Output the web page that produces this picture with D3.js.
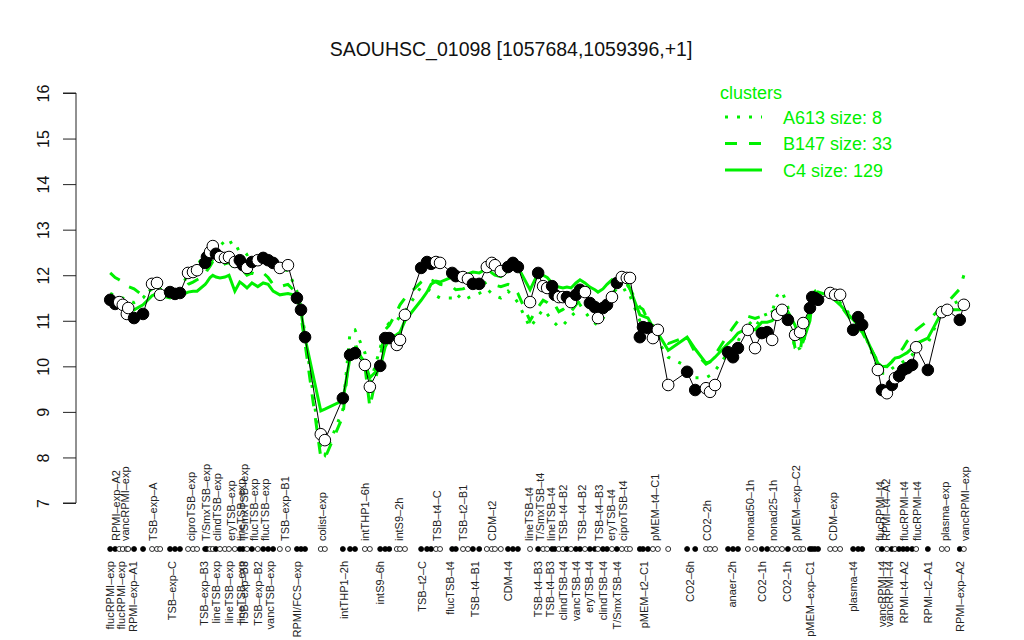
<!DOCTYPE html>
<html><head><meta charset="utf-8">
<script src="https://cdn.jsdelivr.net/npm/d3@7"></script>
<style>body{margin:0;background:#fff}svg{display:block}text{font-family:"Liberation Sans",Arial,Helvetica,sans-serif}</style>
</head><body><svg id="c" width="1024" height="640"></svg>
<script>
// sample positions (order along the x axis, with gaps between condition groups)
const positions = [7.6,8.7,9.6,10.4,11.3,11.6,12.9,14.9,16.9,18.0,18.7,20.9,22.0,23.1,24.9,26.0,26.9,28.7,29.1,29.8,30.4,31.1,32.0,33.1,34.0,35.3,36.4,37.1,38.0,39.1,40.4,41.6,42.7,43.8,45.3,47.1,49.1,50.0,50.9,54.4,55.3,59.3,60.9,62.0,64.2,65.3,67.6,68.7,69.6,71.3,72.0,73.1,76.7,78.0,78.9,80.0,80.9,83.6,84.4,86.0,87.1,88.2,89.6,91.3,92.4,93.1,94.4,96.0,97.1,98.2,100.9,102.7,103.8,104.7,105.8,106.4,107.3,108.2,109.1,110.0,111.1,112.0,113.1,114.2,115.3,116.0,117.1,118.0,119.1,120.2,121.3,122.4,123.1,125.3,126.0,127.1,128.2,129.3,131.6,135.8,137.6,140.0,140.9,142.0,144.9,146.0,147.1,149.3,150.9,152.4,153.6,154.7,155.8,156.9,158.2,159.8,160.9,161.6,163.1,163.6,164.2,164.9,167.6,168.7,169.8,172.7,173.8,174.7,178.2,179.1,180.2,181.3,182.0,182.9,183.8,184.7,185.8,186.7,189.3,192.4,193.6,196.4,197.3];
// gene expression (log2)
const values = [11.46,11.37,11.41,11.35,11.15,11.28,11.06,11.15,11.81,11.83,11.57,11.63,11.59,11.61,12.05,12.07,12.11,12.27,12.40,12.51,12.64,12.47,12.40,12.38,12.40,12.29,12.33,12.22,12.16,12.29,12.33,12.38,12.33,12.27,12.16,12.22,11.50,11.24,10.64,8.51,8.38,9.30,10.25,10.29,10.03,9.55,10.01,10.62,10.62,10.47,10.58,11.13,12.16,12.29,12.25,12.29,12.27,12.05,11.98,11.96,11.92,11.81,11.81,12.18,12.27,12.22,12.09,12.18,12.27,12.18,11.41,12.05,11.76,11.72,11.76,11.57,11.52,11.52,11.52,11.41,11.57,11.68,11.63,11.39,11.30,11.06,11.28,11.35,11.52,11.83,11.96,11.94,11.94,10.64,10.86,10.84,10.62,10.80,9.59,9.88,9.48,9.52,9.44,9.59,10.31,10.20,10.40,10.80,10.40,10.73,10.75,10.58,11.13,11.24,11.02,10.69,10.75,10.95,11.28,11.52,11.50,11.46,11.61,11.57,11.57,10.80,11.08,10.91,9.92,9.48,9.41,9.59,9.74,9.79,9.92,9.96,10.03,10.42,9.92,11.19,11.24,11.02,11.35];
// 1 = filled marker, 0 = open marker
const filled = [1,1,0,0,0,0,1,1,0,0,0,1,1,1,0,0,0,1,1,0,0,1,0,0,0,0,1,1,0,1,0,1,1,1,0,0,1,1,1,0,0,1,1,1,0,0,1,1,1,0,0,0,1,1,1,0,0,1,1,0,0,1,1,0,0,0,0,1,1,1,0,1,0,0,1,1,0,0,1,0,1,1,0,1,1,0,1,1,0,1,0,0,0,1,1,1,0,0,0,1,1,0,0,0,1,1,1,0,0,1,1,0,0,0,1,0,0,0,1,1,1,1,0,0,0,1,1,1,0,1,0,1,0,1,1,1,1,0,1,0,0,1,0];
// cluster mean profiles
const clusterC4 = [11.45,11.42,11.38,11.35,11.30,11.28,11.24,11.35,11.55,11.60,11.55,11.50,11.57,11.55,11.63,11.65,11.65,11.80,11.85,11.95,12.00,11.96,11.94,11.96,12.00,11.65,11.85,11.80,11.72,11.83,11.75,11.83,11.80,11.65,11.57,11.60,11.55,11.20,10.62,9.02,9.06,9.25,10.20,10.40,10.08,9.75,9.98,10.42,10.60,10.70,10.75,11.00,11.45,11.63,11.80,11.87,11.85,11.96,11.97,12.00,12.03,12.07,12.05,12.15,12.05,12.00,11.97,12.10,12.15,12.18,11.68,12.05,12.00,11.95,11.83,11.76,11.74,11.72,11.74,11.72,11.83,11.90,11.83,11.74,11.68,11.63,11.70,11.80,11.90,11.85,11.94,11.85,11.70,11.13,11.10,11.06,10.86,10.73,10.35,10.64,10.38,10.07,10.10,10.20,10.50,10.60,10.73,10.84,10.80,10.97,10.97,11.00,11.13,11.15,11.20,10.90,10.60,10.55,11.00,11.45,11.55,11.63,11.55,11.45,11.35,11.02,10.90,10.80,10.07,10.00,9.99,10.10,10.18,10.20,10.25,10.30,10.40,10.50,10.62,11.19,11.24,11.24,11.30];
const clusterB147 = [12.05,11.95,11.90,11.85,11.75,11.75,11.70,11.55,11.70,11.75,11.65,11.55,11.60,11.60,11.80,11.85,11.90,12.00,12.10,12.20,12.30,12.25,12.20,12.25,12.28,12.15,12.10,12.10,12.00,12.05,12.00,12.05,11.95,11.80,11.75,11.80,11.60,11.10,10.50,8.00,7.98,8.90,10.45,10.50,10.00,9.10,10.20,10.80,10.90,11.20,11.35,11.50,11.85,11.95,11.90,11.85,11.80,11.75,11.68,11.70,11.75,11.70,11.75,11.85,11.80,11.78,11.75,11.80,11.75,11.60,11.00,11.30,11.45,11.40,11.30,11.35,11.20,11.25,11.13,11.20,11.35,11.45,11.35,11.45,11.40,11.35,11.40,11.50,11.60,11.70,11.75,11.80,11.70,11.30,11.25,11.00,10.90,10.75,10.50,10.65,10.30,10.05,10.10,10.25,10.70,10.85,11.00,11.10,11.05,11.10,11.15,11.20,11.25,11.35,11.20,10.40,10.30,10.80,11.20,11.55,11.65,11.70,11.60,11.45,11.35,10.95,10.85,10.75,10.10,10.00,10.00,10.10,10.20,10.30,10.40,10.55,10.65,10.80,11.00,11.30,11.40,11.70,12.00];
const clusterA613 = [11.60,11.55,11.50,11.50,11.45,11.45,11.40,11.50,11.75,11.80,11.70,11.55,11.60,11.65,12.05,12.10,12.20,12.50,12.55,12.65,12.70,12.60,12.65,12.75,12.80,12.55,12.60,12.55,12.45,12.50,12.35,12.40,12.30,12.25,12.15,12.10,11.65,11.30,10.70,8.15,8.05,9.05,10.75,10.80,10.30,9.60,10.40,10.85,10.95,11.00,11.10,11.20,11.75,11.70,11.65,11.55,11.50,11.50,11.60,11.45,11.50,11.55,11.60,11.70,11.60,11.55,11.50,11.65,11.55,11.40,10.85,11.10,11.25,11.15,11.00,10.95,10.86,10.90,11.00,11.10,11.20,11.35,11.20,11.05,10.95,10.90,11.05,11.20,11.35,11.55,11.65,11.70,11.55,11.00,10.90,10.80,10.70,10.55,10.20,10.00,9.75,9.75,9.80,9.90,10.30,10.40,10.55,11.00,10.85,11.10,11.15,11.20,11.55,11.65,11.30,10.35,10.40,10.50,11.20,11.40,11.50,11.60,11.55,11.45,11.40,11.05,10.95,10.85,9.95,9.85,9.85,9.95,10.00,10.05,10.10,10.15,10.25,10.40,10.50,11.20,11.30,11.45,11.50];
const yTicks = [7,8,9,10,11,12,13,14,15,16];
const topLabels = [["RPMI\u2013exp\u2013A2",8.9],["vancRPMI\u2013exp",10.9],["TSB\u2013exp\u2013A",17.1],["ciproTSB\u2013exp",25.6],["T/SmxTSB\u2013exp",28.9],["clindTSB\u2013exp",31.3],["eryTSB\u2013exp",34.4],["lineTSB\u2013exp",36.6],["T/SmxTSB\u2013exp",37.3],["flucTSB\u2013exp",39.6],["flucTSB\u2013exp",42.0],["TSB\u2013exp\u2013B1",46.4],["colist\u2013exp",54.7],["intTHP1\u20136h",64.2],["intS9\u20132h",71.8],["TSB\u2013t4\u2013C",80.2],["TSB\u2013t2\u2013B1",86.0],["CDM\u2013t2",92.4],["lineTSB\u2013t4",100.7],["T/SmxTSB\u2013t4",103.1],["lineTSB\u2013t4",105.6],["TSB\u2013t4\u2013B2",108.2],["TSB\u2013t4\u2013B2",112.4],["TSB\u2013t4\u2013B3",116.2],["eryTSB\u2013t4",118.9],["ciproTSB\u2013t4",121.6],["pMEM\u2013t4\u2013C1",128.7],["CO2\u20132h",140.2],["nonad50\u20131h",149.8],["nonad25\u20131h",154.9],["pMEM\u2013exp\u2013C2",160.0],["CDM\u2013exp",168.2],["flucRPMI\u2013t4",178.7],["RPMI\u2013t4\u2013A2",180.0],["flucRPMI\u2013t4",184.0],["flucRPMI\u2013t4",186.9],["plasma\u2013exp",193.1],["vancRPMI\u2013exp",197.6]];
const bottomLabels = [["flucRPMI\u2013exp",7.6],["flucRPMI\u2013exp",10.0],["RPMI\u2013exp\u2013A1",12.7],["TSB\u2013exp\u2013C",21.3],["TSB\u2013exp\u2013B3",28.4],["lineTSB\u2013exp",31.1],["lineTSB\u2013exp",34.0],["lineTSB\u2013exp",36.7],["TSB\u2013exp\u2013B3",37.3],["TSB\u2013exp\u2013B2",40.4],["vancTSB\u2013exp",43.1],["RPMI/FCS\u2013exp",49.1],["intTHP1\u20132h",59.6],["intS9\u20136h",67.6],["TSB\u2013t2\u2013C",76.9],["flucTSB\u2013t4",83.1],["TSB\u2013t4\u2013B1",88.7],["CDM\u2013t4",96.0],["TSB\u2013t4\u2013B3",102.7],["TSB\u2013t4\u2013B3",105.3],["clindTSB\u2013t4",108.2],["vancTSB\u2013t4",111.1],["eryTSB\u2013t4",114.0],["clindTSB\u2013t4",117.1],["T/SmxTSB\u2013t4",120.2],["pMEM\u2013t2\u2013C1",126.2],["CO2\u20136h",136.4],["anaer\u20132h",145.8],["CO2\u20131h",152.4],["CO2\u20131h",158.0],["pMEM\u2013exp\u2013C1",163.1],["plasma\u2013t4",172.7],["vancRPMI\u2013t4",179.1],["vancRPMI\u2013t4",180.7],["RPMI\u2013t4\u2013A2",184.0],["RPMI\u2013t2\u2013A1",189.3],["RPMI\u2013exp\u2013A2",196.4]];
const legendItems = [["A613 size: 8","3,9"],["B147 size: 33","12,12"],["C4 size: 129",null]];
const title = "SAOUHSC_01098 [1057684,1059396,+1]";

const svg = d3.select("#c");
const green = "#00f000";
const x = d3.scaleLinear().domain([0,200]).range([76,976]);
const y = d3.scaleLinear().domain([7,16]).range([503,93]);

// title
svg.append("text").attr("x",511).attr("y",56).attr("text-anchor","middle")
  .attr("font-size",19.5).attr("fill","#111").text(title);

// y axis
const yAxis = d3.axisLeft(y).tickValues(yTicks).tickSize(13).tickFormat(d3.format("d"));
const ga = svg.append("g").attr("transform","translate(76,0)").call(yAxis);
ga.select(".domain").attr("stroke","#222").attr("d","M-13,"+y(7)+"H0V"+y(16)+"H-13");
ga.selectAll(".tick line").attr("stroke","#222");
ga.selectAll(".tick text").attr("font-size",16).attr("fill","#111")
  .attr("font-family","'Liberation Sans',Arial,sans-serif")
  .attr("text-anchor","middle").attr("x",0).attr("y",0).attr("dy",null)
  .attr("transform","translate(-27,0) rotate(-90)");

// cluster lines
const idx = d3.range(positions.length);
function line(arr){return d3.line().x(i=>x(positions[i])).y(i=>y(arr[i]))(idx);}
svg.append("path").attr("d",line(clusterA613)).attr("fill","none").attr("stroke",green)
  .attr("stroke-width",3).attr("stroke-dasharray","3,9");
svg.append("path").attr("d",line(clusterB147)).attr("fill","none").attr("stroke",green)
  .attr("stroke-width",3).attr("stroke-dasharray","12,12");
svg.append("path").attr("d",line(clusterC4)).attr("fill","none").attr("stroke",green)
  .attr("stroke-width",3);

// gene line and points
svg.append("path").attr("d",line(values)).attr("fill","none").attr("stroke","#000").attr("stroke-width",1);
svg.append("g").selectAll("circle").data(idx).join("circle")
  .attr("cx",i=>x(positions[i])).attr("cy",i=>y(values[i])).attr("r",5.8)
  .attr("fill",i=>filled[i]?"#000":"#fff").attr("stroke","#000").attr("stroke-width",1);

// rug
svg.append("g").selectAll("circle").data(idx).join("circle")
  .attr("cx",i=>x(positions[i])).attr("cy",549).attr("r",2.5)
  .attr("fill",i=>filled[i]?"#000":"#fff").attr("stroke","#000").attr("stroke-width",0.8);

// labels
svg.append("g").selectAll("text").data(topLabels).join("text")
  .attr("transform",d=>"translate("+x(d[1])+",541) rotate(-90)")
  .attr("text-anchor","start").attr("dominant-baseline","central")
  .attr("font-size",11).attr("fill","#222").text(d=>d[0]);
svg.append("g").selectAll("text").data(bottomLabels).join("text")
  .attr("transform",d=>"translate("+x(d[1])+",561) rotate(-90)")
  .attr("text-anchor","end").attr("dominant-baseline","central")
  .attr("font-size",11).attr("fill","#222").text(d=>d[0]);

// legend
const lg = svg.append("g");
lg.append("text").attr("x",720).attr("y",99).attr("font-size",18).attr("fill",green).text("clusters");
legendItems.forEach((d,k)=>{
  const yy = 117 + k*26.5;
  const l = lg.append("line").attr("x1",725).attr("x2",762).attr("y1",yy).attr("y2",yy)
    .attr("stroke",green).attr("stroke-width",3);
  if(d[1]) l.attr("stroke-dasharray",d[1]);
  lg.append("text").attr("x",783).attr("y",yy+6.5).attr("font-size",18).attr("fill",green).text(d[0]);
});
</script></body></html>
